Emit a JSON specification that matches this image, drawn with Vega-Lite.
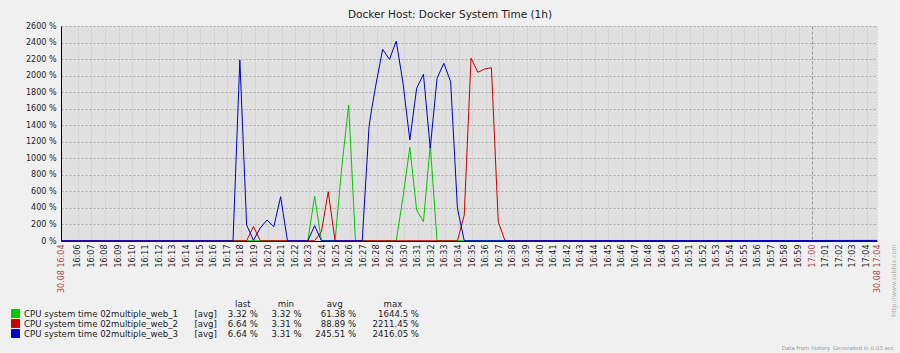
{
  "$schema": "https://vega.github.io/schema/vega-lite/v6.json",
  "autosize": {"type": "none"},
  "width": 816,
  "height": 215,
  "padding": {"left": 61, "top": 26, "right": 23, "bottom": 112},
  "background": "#f0f0f0",
  "title": {"text": "Docker Host: Docker System Time (1h)", "anchor": "middle", "dx": -19, "dy": 5, "offset": 7, "fontSize": 10.5, "font": "DejaVu Sans", "fontWeight": "normal", "color": "#222222"},
  "config": {"view": {"fill": "#e0e0e0", "stroke": null}, "font": "DejaVu Sans"},
  "layer": [
    {
      "data": {"values": [
        {"s": "web_1", "t": "2016/08/30 16:04:46", "v": 3.3},
        {"s": "web_1", "t": "2016/08/30 16:22:55", "v": 3.3},
        {"s": "web_1", "t": "2016/08/30 16:23:25", "v": 540},
        {"s": "web_1", "t": "2016/08/30 16:23:55", "v": 3.3},
        {"s": "web_1", "t": "2016/08/30 16:24:55", "v": 3.3},
        {"s": "web_1", "t": "2016/08/30 16:25:25", "v": 900},
        {"s": "web_1", "t": "2016/08/30 16:25:55", "v": 1644.5},
        {"s": "web_1", "t": "2016/08/30 16:26:25", "v": 3.3},
        {"s": "web_1", "t": "2016/08/30 16:29:25", "v": 3.3},
        {"s": "web_1", "t": "2016/08/30 16:29:55", "v": 536},
        {"s": "web_1", "t": "2016/08/30 16:30:25", "v": 1133},
        {"s": "web_1", "t": "2016/08/30 16:30:55", "v": 375},
        {"s": "web_1", "t": "2016/08/30 16:31:25", "v": 233},
        {"s": "web_1", "t": "2016/08/30 16:31:55", "v": 1161},
        {"s": "web_1", "t": "2016/08/30 16:32:25", "v": 3.3},
        {"s": "web_1", "t": "2016/08/30 17:04:46", "v": 3.3},
        {"s": "web_2", "t": "2016/08/30 16:04:46", "v": 3.3},
        {"s": "web_2", "t": "2016/08/30 16:18:25", "v": 3.3},
        {"s": "web_2", "t": "2016/08/30 16:18:55", "v": 175},
        {"s": "web_2", "t": "2016/08/30 16:19:25", "v": 3.3},
        {"s": "web_2", "t": "2016/08/30 16:23:25", "v": 3.3},
        {"s": "web_2", "t": "2016/08/30 16:23:55", "v": 113},
        {"s": "web_2", "t": "2016/08/30 16:24:25", "v": 596},
        {"s": "web_2", "t": "2016/08/30 16:24:55", "v": 3.3},
        {"s": "web_2", "t": "2016/08/30 16:33:55", "v": 3.3},
        {"s": "web_2", "t": "2016/08/30 16:34:25", "v": 314},
        {"s": "web_2", "t": "2016/08/30 16:34:55", "v": 2211.45},
        {"s": "web_2", "t": "2016/08/30 16:35:25", "v": 2040},
        {"s": "web_2", "t": "2016/08/30 16:35:55", "v": 2080},
        {"s": "web_2", "t": "2016/08/30 16:36:25", "v": 2095},
        {"s": "web_2", "t": "2016/08/30 16:36:55", "v": 234},
        {"s": "web_2", "t": "2016/08/30 16:37:25", "v": 3.3},
        {"s": "web_2", "t": "2016/08/30 17:04:46", "v": 6.6},
        {"s": "web_3", "t": "2016/08/30 16:04:46", "v": 3.3},
        {"s": "web_3", "t": "2016/08/30 16:17:25", "v": 3.3},
        {"s": "web_3", "t": "2016/08/30 16:17:55", "v": 2190},
        {"s": "web_3", "t": "2016/08/30 16:18:25", "v": 195},
        {"s": "web_3", "t": "2016/08/30 16:18:55", "v": 8},
        {"s": "web_3", "t": "2016/08/30 16:19:25", "v": 157},
        {"s": "web_3", "t": "2016/08/30 16:19:55", "v": 254},
        {"s": "web_3", "t": "2016/08/30 16:20:25", "v": 173},
        {"s": "web_3", "t": "2016/08/30 16:20:55", "v": 536},
        {"s": "web_3", "t": "2016/08/30 16:21:25", "v": 3.3},
        {"s": "web_3", "t": "2016/08/30 16:22:55", "v": 3.3},
        {"s": "web_3", "t": "2016/08/30 16:23:25", "v": 185},
        {"s": "web_3", "t": "2016/08/30 16:23:55", "v": 3.3},
        {"s": "web_3", "t": "2016/08/30 16:26:55", "v": 3.3},
        {"s": "web_3", "t": "2016/08/30 16:27:25", "v": 1382},
        {"s": "web_3", "t": "2016/08/30 16:27:36", "v": 1584},
        {"s": "web_3", "t": "2016/08/30 16:27:55", "v": 1886},
        {"s": "web_3", "t": "2016/08/30 16:28:25", "v": 2318},
        {"s": "web_3", "t": "2016/08/30 16:28:55", "v": 2197},
        {"s": "web_3", "t": "2016/08/30 16:29:25", "v": 2416.05},
        {"s": "web_3", "t": "2016/08/30 16:29:55", "v": 1907},
        {"s": "web_3", "t": "2016/08/30 16:30:25", "v": 1221},
        {"s": "web_3", "t": "2016/08/30 16:30:55", "v": 1846},
        {"s": "web_3", "t": "2016/08/30 16:31:25", "v": 2016},
        {"s": "web_3", "t": "2016/08/30 16:31:55", "v": 1121},
        {"s": "web_3", "t": "2016/08/30 16:32:25", "v": 1967},
        {"s": "web_3", "t": "2016/08/30 16:32:55", "v": 2149},
        {"s": "web_3", "t": "2016/08/30 16:33:25", "v": 1927},
        {"s": "web_3", "t": "2016/08/30 16:33:55", "v": 395},
        {"s": "web_3", "t": "2016/08/30 16:34:25", "v": 3.3},
        {"s": "web_3", "t": "2016/08/30 17:04:46", "v": 6.6}
      ]},
      "mark": {"type": "line", "strokeWidth": 1, "interpolate": "linear"},
      "encoding": {
        "x": {
          "field": "t", "type": "temporal",
          "scale": {"domain": [{"year": 2016, "month": 8, "date": 30, "hours": 16, "minutes": 4, "seconds": 46}, {"year": 2016, "month": 8, "date": 30, "hours": 17, "minutes": 4, "seconds": 46}], "nice": false},
          "axis": {
            "values": [
              {"year": 2016, "month": 8, "date": 30, "hours": 16, "minutes": 4, "seconds": 46},
              {"year": 2016, "month": 8, "date": 30, "hours": 16, "minutes": 6},
              {"year": 2016, "month": 8, "date": 30, "hours": 16, "minutes": 7},
              {"year": 2016, "month": 8, "date": 30, "hours": 16, "minutes": 8},
              {"year": 2016, "month": 8, "date": 30, "hours": 16, "minutes": 9},
              {"year": 2016, "month": 8, "date": 30, "hours": 16, "minutes": 10},
              {"year": 2016, "month": 8, "date": 30, "hours": 16, "minutes": 11},
              {"year": 2016, "month": 8, "date": 30, "hours": 16, "minutes": 12},
              {"year": 2016, "month": 8, "date": 30, "hours": 16, "minutes": 13},
              {"year": 2016, "month": 8, "date": 30, "hours": 16, "minutes": 14},
              {"year": 2016, "month": 8, "date": 30, "hours": 16, "minutes": 15},
              {"year": 2016, "month": 8, "date": 30, "hours": 16, "minutes": 16},
              {"year": 2016, "month": 8, "date": 30, "hours": 16, "minutes": 17},
              {"year": 2016, "month": 8, "date": 30, "hours": 16, "minutes": 18},
              {"year": 2016, "month": 8, "date": 30, "hours": 16, "minutes": 19},
              {"year": 2016, "month": 8, "date": 30, "hours": 16, "minutes": 20},
              {"year": 2016, "month": 8, "date": 30, "hours": 16, "minutes": 21},
              {"year": 2016, "month": 8, "date": 30, "hours": 16, "minutes": 22},
              {"year": 2016, "month": 8, "date": 30, "hours": 16, "minutes": 23},
              {"year": 2016, "month": 8, "date": 30, "hours": 16, "minutes": 24},
              {"year": 2016, "month": 8, "date": 30, "hours": 16, "minutes": 25},
              {"year": 2016, "month": 8, "date": 30, "hours": 16, "minutes": 26},
              {"year": 2016, "month": 8, "date": 30, "hours": 16, "minutes": 27},
              {"year": 2016, "month": 8, "date": 30, "hours": 16, "minutes": 28},
              {"year": 2016, "month": 8, "date": 30, "hours": 16, "minutes": 29},
              {"year": 2016, "month": 8, "date": 30, "hours": 16, "minutes": 30},
              {"year": 2016, "month": 8, "date": 30, "hours": 16, "minutes": 31},
              {"year": 2016, "month": 8, "date": 30, "hours": 16, "minutes": 32},
              {"year": 2016, "month": 8, "date": 30, "hours": 16, "minutes": 33},
              {"year": 2016, "month": 8, "date": 30, "hours": 16, "minutes": 34},
              {"year": 2016, "month": 8, "date": 30, "hours": 16, "minutes": 35},
              {"year": 2016, "month": 8, "date": 30, "hours": 16, "minutes": 36},
              {"year": 2016, "month": 8, "date": 30, "hours": 16, "minutes": 37},
              {"year": 2016, "month": 8, "date": 30, "hours": 16, "minutes": 38},
              {"year": 2016, "month": 8, "date": 30, "hours": 16, "minutes": 39},
              {"year": 2016, "month": 8, "date": 30, "hours": 16, "minutes": 40},
              {"year": 2016, "month": 8, "date": 30, "hours": 16, "minutes": 41},
              {"year": 2016, "month": 8, "date": 30, "hours": 16, "minutes": 42},
              {"year": 2016, "month": 8, "date": 30, "hours": 16, "minutes": 43},
              {"year": 2016, "month": 8, "date": 30, "hours": 16, "minutes": 44},
              {"year": 2016, "month": 8, "date": 30, "hours": 16, "minutes": 45},
              {"year": 2016, "month": 8, "date": 30, "hours": 16, "minutes": 46},
              {"year": 2016, "month": 8, "date": 30, "hours": 16, "minutes": 47},
              {"year": 2016, "month": 8, "date": 30, "hours": 16, "minutes": 48},
              {"year": 2016, "month": 8, "date": 30, "hours": 16, "minutes": 49},
              {"year": 2016, "month": 8, "date": 30, "hours": 16, "minutes": 50},
              {"year": 2016, "month": 8, "date": 30, "hours": 16, "minutes": 51},
              {"year": 2016, "month": 8, "date": 30, "hours": 16, "minutes": 52},
              {"year": 2016, "month": 8, "date": 30, "hours": 16, "minutes": 53},
              {"year": 2016, "month": 8, "date": 30, "hours": 16, "minutes": 54},
              {"year": 2016, "month": 8, "date": 30, "hours": 16, "minutes": 55},
              {"year": 2016, "month": 8, "date": 30, "hours": 16, "minutes": 56},
              {"year": 2016, "month": 8, "date": 30, "hours": 16, "minutes": 57},
              {"year": 2016, "month": 8, "date": 30, "hours": 16, "minutes": 58},
              {"year": 2016, "month": 8, "date": 30, "hours": 16, "minutes": 59},
              {"year": 2016, "month": 8, "date": 30, "hours": 17, "minutes": 0},
              {"year": 2016, "month": 8, "date": 30, "hours": 17, "minutes": 1},
              {"year": 2016, "month": 8, "date": 30, "hours": 17, "minutes": 2},
              {"year": 2016, "month": 8, "date": 30, "hours": 17, "minutes": 3},
              {"year": 2016, "month": 8, "date": 30, "hours": 17, "minutes": 4},
              {"year": 2016, "month": 8, "date": 30, "hours": 17, "minutes": 4, "seconds": 46}
            ],
            "labelExpr": "seconds(datum.value) == 46 ? timeFormat(datum.value, '%d.%m %H:%M') : timeFormat(datum.value, '%H:%M')",
            "labelAngle": 270,
            "labelFontSize": 8,
            "labelFont": "DejaVu Sans",
            "labelPadding": 3,
            "labelOverlap": false,
            "labelFlush": false,
            "labelBound": false,
            "labelColor": {"condition": {"test": "seconds(datum.value) == 46 || (hours(datum.value) == 17 && minutes(datum.value) == 0)", "value": "#aa4444"}, "value": "#222222"},
            "ticks": false,
            "domainColor": "#000000",
            "domainWidth": 1,
            "grid": true,
            "gridColor": {"condition": {"test": "hours(datum.value) == 17 && minutes(datum.value) == 0", "value": "#9a9a9a"}, "value": "#c2c2c2"},
            "gridDash": {"condition": {"test": "hours(datum.value) == 17 && minutes(datum.value) == 0", "value": [3, 2]}, "value": [1, 2]},
            "title": "Data from history. Generated in 0.03 sec.",
            "titleX": 834,
            "titleY": 106,
            "titleAlign": "right",
            "titleBaseline": "middle",
            "titleFontSize": 5.5,
            "titleFont": "DejaVu Sans",
            "titleFontWeight": "normal",
            "titleColor": "#999999"
          }
        },
        "y": {
          "field": "v", "type": "quantitative",
          "scale": {"domain": [0, 2600], "nice": false},
          "axis": {
            "values": [0, 200, 400, 600, 800, 1000, 1200, 1400, 1600, 1800, 2000, 2200, 2400, 2600],
            "labelExpr": "datum.value + ' %'",
            "labelFontSize": 8,
            "labelFont": "DejaVu Sans",
            "labelPadding": 5,
            "labelColor": "#222222",
            "ticks": false,
            "domainColor": "#000000",
            "grid": true,
            "gridColor": "#a8a8a8",
            "gridDash": [2, 2],
            "title": null
          }
        },
        "color": {
          "field": "s", "type": "nominal",
          "scale": {"domain": ["web_1", "web_2", "web_3"], "range": ["#00c800", "#c80000", "#0000c8"]},
          "legend": {
            "orient": "none",
            "legendX": -50,
            "legendY": 274,
            "direction": "vertical",
            "padding": 0,
            "title": "\u200b\u00a0\u00a0\u00a0\u00a0\u00a0\u00a0\u00a0\u00a0\u00a0\u00a0\u00a0\u00a0\u00a0\u00a0\u00a0\u00a0\u00a0\u00a0\u00a0\u00a0\u00a0\u00a0\u00a0\u00a0\u00a0\u00a0\u00a0\u00a0\u00a0\u00a0\u00a0\u00a0\u00a0\u00a0\u00a0\u00a0\u00a0\u00a0\u00a0\u00a0\u00a0\u00a0\u00a0\u00a0\u00a0\u00a0\u00a0\u00a0\u00a0\u00a0\u00a0\u00a0\u00a0\u00a0\u00a0\u00a0\u00a0\u00a0\u00a0\u00a0\u00a0\u00a0\u00a0\u00a0\u00a0\u00a0\u00a0\u00a0\u00a0\u00a0\u00a0\u00a0\u00a0\u00a0\u00a0\u00a0\u00a0\u00a0\u00a0\u00a0\u00a0\u00a0last\u00a0\u00a0\u00a0\u00a0\u00a0\u00a0\u00a0\u00a0\u00a0\u00a0min\u00a0\u00a0\u00a0\u00a0\u00a0\u00a0\u00a0\u00a0\u00a0\u00a0\u00a0\u00a0avg\u00a0\u00a0\u00a0\u00a0\u00a0\u00a0\u00a0\u00a0\u00a0\u00a0\u00a0\u00a0\u00a0\u00a0\u00a0max",
            "titleFontSize": 8.6,
            "titleFont": "DejaVu Sans",
            "titleFontWeight": "normal",
            "titleColor": "#222222",
            "titleLimit": 2000,
            "titlePadding": 0,
            "symbolType": "square",
            "symbolSize": 64,
            "symbolStrokeColor": "#000000",
            "symbolStrokeWidth": 1,
            "symbolOpacity": 1,
            "clipHeight": 10,
            "rowPadding": 0,
            "labelExpr": "datum.label == 'web_1' ? 'CPU system time 02multiple_web_1\u00a0\u00a0\u00a0\u00a0\u00a0\u00a0[avg]\u00a0\u00a0\u00a0\u00a03.32 %\u00a0\u00a0\u00a0\u00a0\u00a03.32 %\u00a0\u00a0\u00a0\u00a0\u00a0\u00a0\u00a061.38 %\u00a0\u00a0\u00a0\u00a0\u00a0\u00a0\u00a0\u00a01644.5 %' : datum.label == 'web_2' ? 'CPU system time 02multiple_web_2\u00a0\u00a0\u00a0\u00a0\u00a0\u00a0[avg]\u00a0\u00a0\u00a0\u00a06.64 %\u00a0\u00a0\u00a0\u00a0\u00a03.31 %\u00a0\u00a0\u00a0\u00a0\u00a0\u00a0\u00a088.89 %\u00a0\u00a0\u00a0\u00a0\u00a0\u00a02211.45 %' : 'CPU system time 02multiple_web_3\u00a0\u00a0\u00a0\u00a0\u00a0\u00a0[avg]\u00a0\u00a0\u00a0\u00a06.64 %\u00a0\u00a0\u00a0\u00a0\u00a03.31 %\u00a0\u00a0\u00a0\u00a0\u00a0245.51 %\u00a0\u00a0\u00a0\u00a0\u00a0\u00a02416.05 %'",
            "labelFontSize": 8.6,
            "labelFont": "DejaVu Sans",
            "labelColor": "#222222",
            "labelLimit": 2000,
            "labelOffset": 4,
            "encode": {"symbols": {"update": {"fill": {"scale": "color", "field": "value"}, "stroke": {"value": "#000000"}, "fillOpacity": {"value": 1}}}}
          }
        }
      }
    },
    {
      "data": {"values": [{}]},
      "mark": {"type": "rule", "strokeOpacity": 0},
      "encoding": {
        "y": {
          "datum": 0, "type": "quantitative",
          "axis": {
            "orient": "right",
            "title": "http://www.zabbix.com",
            "labels": false,
            "ticks": false,
            "domain": false,
            "grid": false,
            "titleAngle": 270,
            "titleX": 16,
            "titleY": 254,
            "titleAlign": "center",
            "titleBaseline": "middle",
            "titleFontSize": 6.3,
            "titleFont": "DejaVu Sans",
            "titleFontWeight": "normal",
            "titleColor": "#b0b0b0"
          }
        }
      }
    }
  ],
  "resolve": {"axis": {"y": "independent"}}
}
